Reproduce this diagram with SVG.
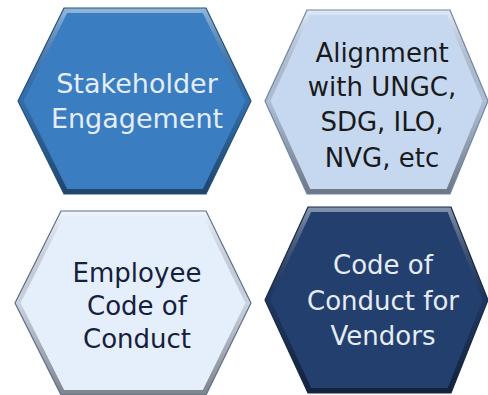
<svg xmlns="http://www.w3.org/2000/svg" width="488" height="395" viewBox="0 0 488 395">
<style>
.lbl{font-family:"DejaVu Sans","Verdana",sans-serif;font-size:26px;text-anchor:middle}
.bev{fill:none;stroke:url(#bevel);stroke-width:10}
.edge{fill:none;stroke-width:1.2}
</style>
<defs>
<linearGradient id="bevel" x1="0" y1="0" x2="0" y2="1">
<stop offset="0" stop-color="#ffffff" stop-opacity="0.45"/>
<stop offset="0.5" stop-color="#000000" stop-opacity="0.12"/>
<stop offset="1" stop-color="#000000" stop-opacity="0.45"/>
</linearGradient>
<polygon id="p1" points="64,8 206,8 251,101 206,194 64,194 18,101"/>
<polygon id="p2" points="307,10 450,10 488,101 450,194 307,194 265,101"/>
<polygon id="p3" points="61,211 206,211 251,303 206,395 61,395 15,303"/>
<polygon id="p4" points="308,207 451,207 488,300 451,393 308,393 265,300"/>
<clipPath id="c1"><use href="#p1"/></clipPath>
<clipPath id="c2"><use href="#p2"/></clipPath>
<clipPath id="c3"><use href="#p3"/></clipPath>
<clipPath id="c4"><use href="#p4"/></clipPath>
</defs>
<rect width="488" height="395" fill="#ffffff"/>
<g id="connectors"></g>
<g id="node-stakeholder">
<use href="#p1" fill="#3A7DC1"/>
<use href="#p1" class="bev" clip-path="url(#c1)"/>
<use href="#p1" class="edge" stroke="#24517F"/>
<text class="lbl" font-size="27" fill="#E4EDF8" x="137" y="93" style="font-size:27px">Stakeholder</text>
<text class="lbl" fill="#E4EDF8" x="137" y="128" style="font-size:27px">Engagement</text>
</g>
<g id="node-alignment">
<use href="#p2" fill="#C6D8F0"/>
<use href="#p2" class="bev" clip-path="url(#c2)"/>
<use href="#p2" class="edge" stroke="#6E86A8"/>
<text class="lbl" fill="#1A1A1A" x="382" y="62">Alignment</text>
<text class="lbl" fill="#1A1A1A" x="382" y="96">with UNGC,</text>
<text class="lbl" fill="#1A1A1A" x="382" y="131">SDG, ILO,</text>
<text class="lbl" fill="#1A1A1A" x="382" y="167">NVG, etc</text>
</g>
<g id="node-employee">
<use href="#p3" fill="#E5EFFC"/>
<use href="#p3" class="bev" clip-path="url(#c3)"/>
<use href="#p3" class="edge" stroke="#5E6F8C"/>
<text class="lbl" fill="#15203A" x="137" y="282">Employee</text>
<text class="lbl" fill="#15203A" x="137" y="315">Code of</text>
<text class="lbl" fill="#15203A" x="137" y="348">Conduct</text>
</g>
<g id="node-vendors">
<use href="#p4" fill="#233F6E"/>
<use href="#p4" class="bev" clip-path="url(#c4)"/>
<use href="#p4" class="edge" stroke="#152848"/>
<text class="lbl" fill="#E6ECF5" x="383" y="274">Code of</text>
<text class="lbl" fill="#E6ECF5" x="383" y="310">Conduct for</text>
<text class="lbl" fill="#E6ECF5" x="383" y="345">Vendors</text>
</g>
</svg>
